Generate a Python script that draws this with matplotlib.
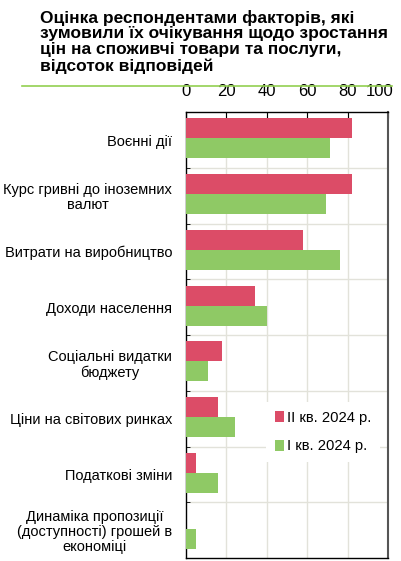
import matplotlib.pyplot as plt
import matplotlib.transforms as mtransforms
import numpy as np
from matplotlib.lines import Line2D

plt.rcParams['font.family'] = ['Liberation Sans', 'DejaVu Sans']

categories = [
    "Воєнні дії",
    "Курс гривні до іноземних\nвалют",
    "Витрати на виробництво",
    "Доходи населення",
    "Соціальні видатки\nбюджету",
    "Ціни на світових ринках",
    "Податкові зміни",
    "Динаміка пропозиції\n(доступності) грошей в\nекономіці",
]
q2_2024 = [82, 82, 58, 34, 18, 16, 5, 0]
q1_2024 = [71, 69, 76, 40, 11, 24, 16, 5]
series_labels = ["II кв. 2024 р.", "I кв. 2024 р."]
x_ticks = [0, 20, 40, 60, 80, 100]

red = '#dc4c67'
green = '#8fc965'

fig = plt.figure(figsize=(4.01, 5.61), dpi=100)
ax = fig.add_axes([0.464, 0.005, 0.504, 0.795])

y = np.arange(len(categories))
h = 0.36
ax.barh(y - h / 2 - 0.03, q2_2024, h, color=red, linewidth=0,
        label=series_labels[0], zorder=3)
ax.barh(y + h / 2 - 0.03, q1_2024, h, color=green, linewidth=0,
        label=series_labels[1], zorder=3)

ax.set_ylim(len(categories) - 0.5, -0.5)
ax.set_xlim(0, 100)
ax.set_xticks(x_ticks)
ax.xaxis.tick_top()
ax.tick_params(axis='x', direction='in', length=4, labelsize=12, pad=9.5, color='black')
# last label sits a bit inward so it stays inside the figure
last = ax.get_xticklabels()[-1]
last.set_transform(last.get_transform() + mtransforms.ScaledTranslation(-6 / 72, 0, fig.dpi_scale_trans))

# category labels at centres, boundaries as minor ticks
ax.set_yticks(y)
ax.set_yticklabels(categories, fontsize=10.5, multialignment='center', linespacing=1.1)
ax.tick_params(axis='y', which='major', length=0, pad=10)
ax.set_yticks(np.arange(len(categories) + 1) - 0.5, minor=True)
ax.tick_params(axis='y', which='minor', direction='in', length=3, color='black')

for xv in x_ticks[1:-1]:
    ax.axvline(xv, color='#e2e2da', linewidth=1, zorder=0)
for yb in np.arange(1, len(categories)) - 0.5:
    ax.axhline(yb, color='#e2e2da', linewidth=1, zorder=0)

for side in ['left', 'bottom', 'top']:
    ax.spines[side].set_color('black')
    ax.spines[side].set_linewidth(1.0)
ax.spines['right'].set_color('#555555')
ax.spines['right'].set_linewidth(1.5)

leg = ax.legend(loc='center left', bbox_to_anchor=(0.36, 0.283), frameon=True,
                fontsize=10.6, handlelength=0.6, handleheight=0.8, handletextpad=0.2,
                labelspacing=1.0, borderpad=0.6, fancybox=False, framealpha=1)
leg.get_frame().set_edgecolor('white')
leg.get_frame().set_linewidth(0)
leg.set_zorder(5)

fig.text(0.1, 0.983, "Оцінка респондентами факторів, які\nзумовили їх очікування щодо зростання\nцін на споживчі товари та послуги,\nвідсоток відповідей",
         ha='left', va='top', fontsize=12.5, fontweight='bold', linespacing=1.08)
fig.add_artist(Line2D([0.055, 0.978], [0.846, 0.846], color='#92d050', linewidth=1.2))

plt.savefig('out.png', dpi=100)
